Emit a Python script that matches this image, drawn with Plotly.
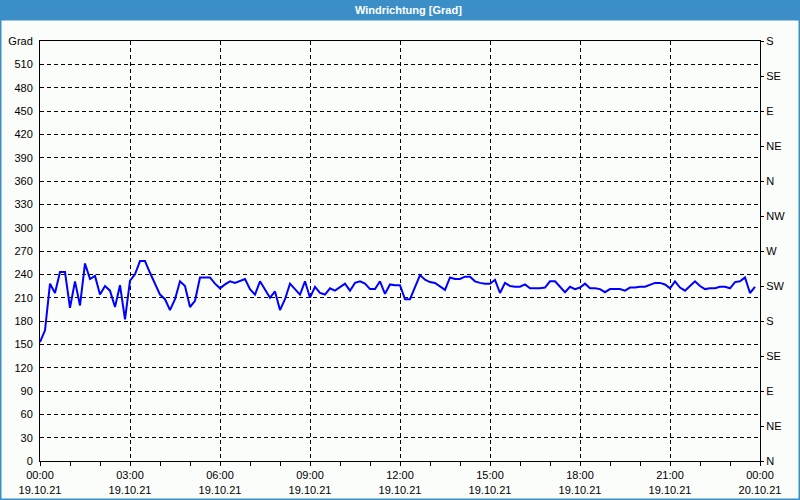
import plotly.graph_objects as go
import pandas as pd

# Wind direction in degrees, 10-minute values, 19.10.21 00:00 .. 23:50
wind_deg = [
    153, 168, 228, 216, 243, 243, 197, 231, 200, 254,
    234, 238, 214, 225, 219, 198, 226, 182, 232, 240,
    257, 257, 242, 228, 214, 208, 194, 208, 231, 225,
    198, 206, 236, 236, 236, 228, 222, 227, 231, 229,
    232, 234, 221, 214, 231, 221, 210, 218, 194, 208,
    228, 221, 214, 231, 210, 224, 216, 214, 222, 219,
    223, 228, 219, 229, 231, 228, 221, 221, 231, 215,
    227, 226, 226, 208, 208, 223, 239, 233, 230, 229,
    225, 220, 236, 234, 234, 237, 237, 231, 229, 228,
    228, 233, 216, 229, 225, 224, 224, 227, 222, 222,
    222, 223, 231, 231, 224, 217, 224, 221, 223, 228,
    222, 222, 221, 217, 221, 221, 221, 219, 223, 223,
    224, 224, 226, 229, 229, 227, 222, 231, 223, 219,
    225, 231, 225, 221, 222, 222, 224, 224, 222, 230,
    231, 236, 216, 224,
]
start_time = "2021-10-19 00:00"
end_time = "2021-10-20 00:00"
times = pd.date_range(start_time, periods=len(wind_deg), freq="10min")

x_tick_vals = list(pd.date_range(start_time, end_time, freq="3h"))
x_tick_text = [
    "00:00<br>19.10.21", "03:00<br>19.10.21", "06:00<br>19.10.21",
    "09:00<br>19.10.21", "12:00<br>19.10.21", "15:00<br>19.10.21",
    "18:00<br>19.10.21", "21:00<br>19.10.21", "00:00<br>20.10.21",
]
left_tick_vals = list(range(0, 541, 30))
left_tick_text = [str(v) for v in range(0, 511, 30)] + ["Grad"]
right_tick_vals = list(range(0, 541, 45))
right_tick_text = ["N", "NE", "E", "SE", "S", "SW", "W", "NW", "N", "NE", "E", "SE", "S"]

title_text = "Windrichtung [Grad]"

W, H = 800, 500
ML, MR, MT, MB = 40, 40, 41, 39
PW, PH = W - ML - MR, H - MT - MB

FONT = dict(family="Liberation Sans, Arial, sans-serif", size=11, color="#000000")
GRID_DASH = "4px,3px"

fig = go.Figure()
fig.add_trace(go.Scatter(
    x=times, y=wind_deg, mode="lines",
    line=dict(color="#0000ff", width=2),
    showlegend=False, hoverinfo="x+y",
))
fig.add_trace(go.Scatter(
    x=[times[0]], y=[None], yaxis="y2", mode="lines",
    showlegend=False, hoverinfo="skip",
))

fig.update_layout(
    width=W, height=H,
    margin=dict(l=ML, r=MR, t=MT, b=MB, pad=0, autoexpand=False),
    paper_bgcolor="#fbfdfb",
    plot_bgcolor="#fbfdfb",
    font=FONT,
    showlegend=False,
    xaxis=dict(
        type="date",
        range=[start_time, end_time],
        tickmode="array", tickvals=x_tick_vals, ticktext=x_tick_text,
        ticks="outside", ticklen=4, tickcolor="#000", tickwidth=1,
        showgrid=True, gridcolor="#000", gridwidth=1, griddash=GRID_DASH,
        showline=True, linecolor="#000", linewidth=1, mirror=True,
        zeroline=False, tickangle=0, automargin=False,
        minor=dict(dtick=3600000, ticks="outside", ticklen=4,
                   tickcolor="#000", tickwidth=1, showgrid=False),
        tickfont=FONT,
    ),
    yaxis=dict(
        range=[0, 540],
        tickmode="array", tickvals=left_tick_vals, ticktext=left_tick_text,
        ticks="", showgrid=True, gridcolor="#000", gridwidth=1, griddash=GRID_DASH,
        showline=True, linecolor="#000", linewidth=1, mirror=True,
        zeroline=False, ticklabelstandoff=4, automargin=False,
        tickfont=FONT,
    ),
    yaxis2=dict(
        range=[0, 540], overlaying="y", side="right",
        tickmode="array", tickvals=right_tick_vals, ticktext=right_tick_text,
        ticks="outside", ticklen=3, tickcolor="#000",
        showgrid=False, zeroline=False, showline=False, automargin=False,
        tickfont=FONT,
    ),
    shapes=[
        dict(type="rect", xref="paper", yref="paper", layer="below",
             x0=-ML / PW, x1=1 + MR / PW,
             y0=1 + (MT - 20.5) / PH, y1=1 + MT / PH,
             fillcolor="#3b8fc6", line=dict(width=0)),
        dict(type="rect", xref="paper", yref="paper", layer="above",
             x0=-ML / PW, x1=1 + MR / PW,
             y0=-MB / PH, y1=1 + MT / PH,
             fillcolor="rgba(0,0,0,0)", line=dict(color="#3b8fc6", width=3)),
    ],
    annotations=[
        dict(text="<b>" + title_text + "</b>", xref="paper", yref="paper",
             x=(408 - ML) / PW, y=1 + (MT - 10.3) / PH,
             xanchor="center", yanchor="middle", showarrow=False,
             font=dict(family="Liberation Sans, Arial, sans-serif", size=11, color="#ffffff")),
    ],
)

fig.write_html("out.html")
